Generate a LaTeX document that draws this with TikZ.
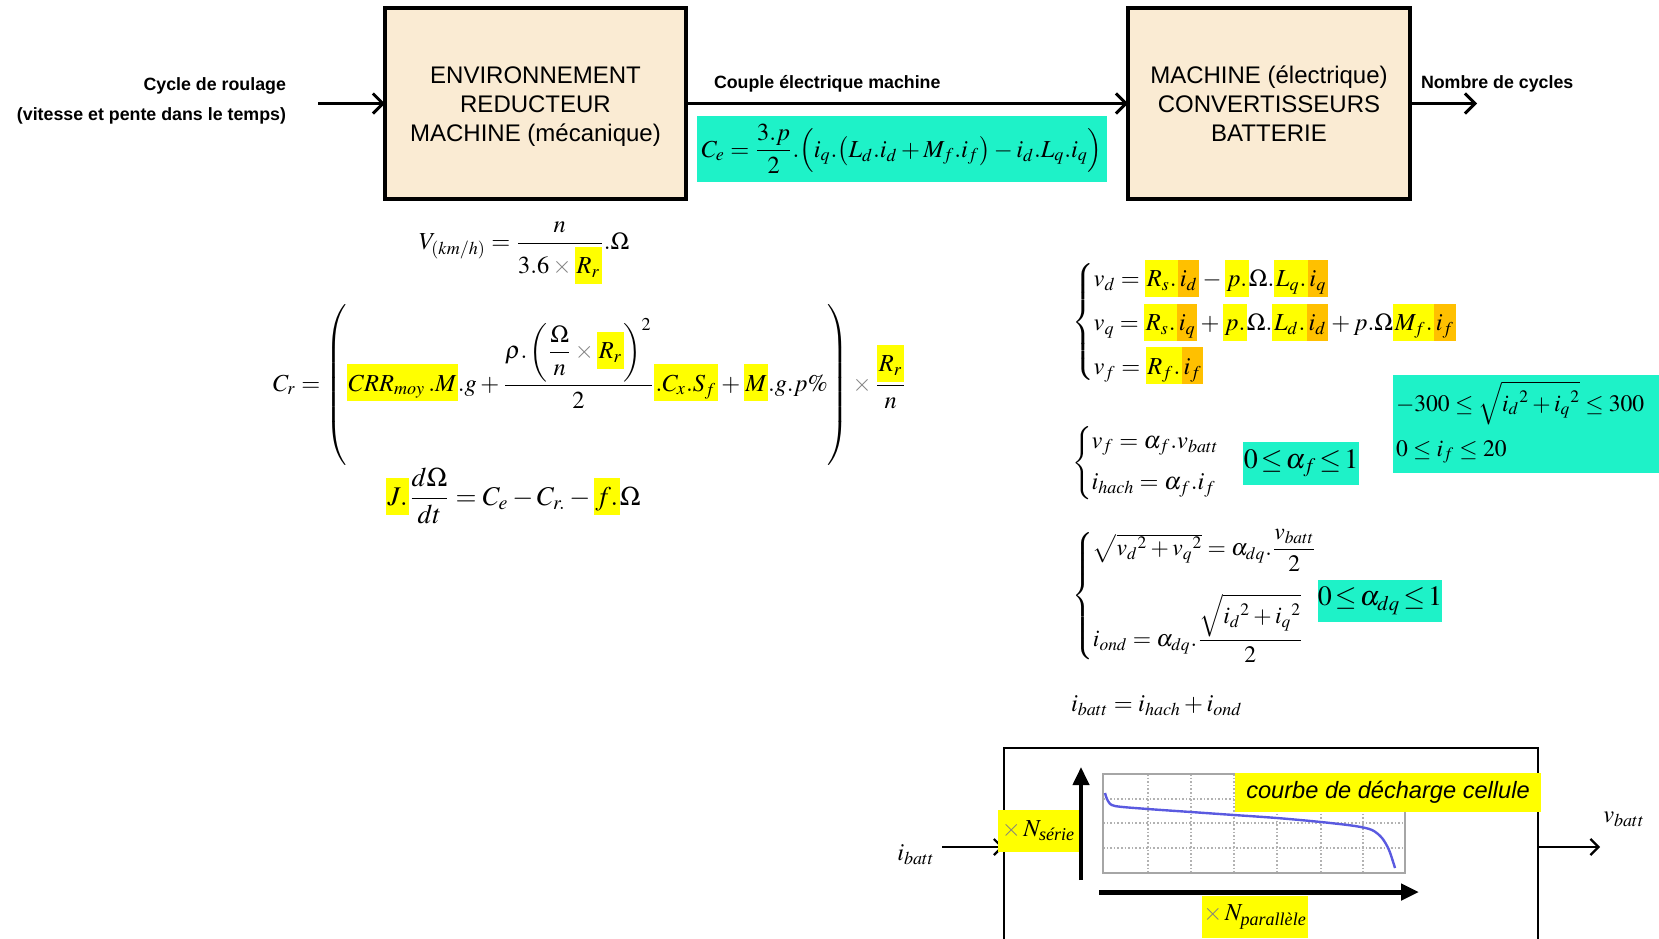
\documentclass[tikz,border=0pt]{standalone}
\usepackage{amsmath}
\usepackage{mathptmx}
\usepackage[no-math]{fontspec}
\setmainfont{Liberation Serif}
\newfontfamily\arial{Liberation Sans}
\usetikzlibrary{arrows.meta}
\definecolor{hy}{HTML}{FFFF00}
\definecolor{ho}{HTML}{FFC000}
\definecolor{cy}{HTML}{1EF2C8}
\definecolor{beige}{HTML}{FAEBD3}
\definecolor{curvecol}{HTML}{5A5AE0}
\newcommand{\hlstrut}{\rule[-5pt]{0pt}{18.5pt}}
\newcommand{\hy}[1]{{\setlength{\fboxsep}{0pt}\colorbox{hy}{\hlstrut$\kern0.8pt#1\kern0.8pt$}}}
\newcommand{\ho}[1]{{\setlength{\fboxsep}{0pt}\colorbox{ho}{\hlstrut$\kern0.8pt#1\kern0.8pt$}}}
\newcommand{\gx}{\mathbin{\textcolor{gray}{\times}}}
\newcommand{\gxo}{\textcolor{gray}{\times}\,}
\newcommand{\tle}{\mkern2mu{\leq}\mkern2mu}
\tikzset{
  blk/.style={draw, line width=2pt, fill=beige, align=center, font=\arial\fontsize{12}{14.5}\selectfont},
  lbl/.style={font=\arial\bfseries\fontsize{8.9}{15}\selectfont},
  eq/.style={font=\fontsize{12.2}{14.6}\selectfont},
  cyanbox/.style={fill=cy},
  hbox/.style={fill=hy},
  arr/.style={line width=1.5pt, -{Straight Barb[length=5pt,width=10pt]}},
  arrb/.style={line width=1.1pt, -{Straight Barb[length=4pt,width=8pt]}},
  axis/.style={line width=2pt, -{Triangle[length=9pt,width=8pt]}},
}
\begin{document}
\begin{tikzpicture}[x=0.5pt,y=-0.5pt, every node/.style={inner sep=0pt, outer sep=0pt}]
\useasboundingbox (0,0) rectangle (1659,938);
\clip (0,0) rectangle (1659,938);

% ---- top blocks
\node[blk, minimum width=150.5pt, minimum height=95.5pt] (env) at (535.5,103.5)
  {\vphantom{(}ENVIRONNEMENT\\REDUCTEUR\\\raisebox{0pt}[\height][0pt]{MACHINE (mécanique)}};
\node[blk, minimum width=141pt, minimum height=95.5pt] (mach) at (1269,103.5)
  {MACHINE (électrique)\\CONVERTISSEURS\\BATTERIE};

\node[lbl, anchor=east, align=right] (cyc) at (286,101)
  {Cycle de roulage\\(vitesse et pente dans le temps)};
\coordinate (cin) at (318,103.5);
\draw[arr] (cin) -- (env.west);
\draw[arr] (env.east) -- (mach.west);
\node[lbl, anchor=west] (couple) at (714,84) {Couple électrique machine};
\coordinate (cout) at (1477,103.5);
\draw[arr] (mach.east) -- (cout);
\node[lbl, anchor=west] (nb) at (1421,84) {Nombre de cycles};

\node[cyanbox, eq, minimum width=205pt, minimum height=33pt] (ce) at (902,149)
  {$C_e = \dfrac{3.p}{2}.\Bigl(i_q.\bigl(L_d.i_d + M_f.i_f\bigr) - i_d.L_q.i_q\Bigr)$};

% ---- mechanical equations
\node[eq, anchor=west] (veq) at (419,253)
  {$V_{(km/h)} = \dfrac{n}{3.6\gx\hy{R_r}}.\Omega$};
\node[eq, anchor=west] (creq) at (273,386)
  {$C_r = \left(\rule[-38pt]{0pt}{78pt}\hy{CRR_{moy}}\hy{.M}.g + \dfrac{\rho.\left(\dfrac{\Omega}{n}\gx\hy{R_r}\right)^{2}}{2}\hy{.C_x.S_f} + \hy{M}.g.p\% \right)\gx\dfrac{\hy{R_r}}{n}$};
\node[eq, anchor=west, font=\fontsize{13.5}{16}\selectfont] (jeq) at (386,496)
  {$\hy{J.}\dfrac{d\Omega}{dt} = C_e - C_{r.} - \hy{f.}\Omega$};

% ---- electrical equations
\node[eq, anchor=west] (sys1) at (1072,322)
  {$\left\{\begin{array}{@{}l@{}}
  v_d = \hy{R_s.}\ho{i_d} - \hy{p.}\Omega.\hy{L_q.}\ho{i_q}\\[4pt]
  v_q = \hy{R_s.}\ho{i_q} + \hy{p.}\Omega.\hy{L_d.}\ho{i_d} + p.\Omega\hy{M_f.}\ho{i_f}\\[4pt]
  v_f = \hy{R_f.}\ho{i_f}
  \end{array}\right.$};
\node[cyanbox, anchor=north west, minimum width=134pt, minimum height=49pt] (lim) at (1393,375) {};
\node[eq, anchor=west, font=\fontsize{11.8}{14}\selectfont] (lim1) at (1396,403)
  {$-300 \leq \sqrt{{i_d}^{2}+{i_q}^{2}} \leq 300$};
\node[eq, anchor=west, font=\fontsize{11.8}{14}\selectfont] (lim2) at (1396,452) {$0\leq i_f \leq 20$};

\node[eq, anchor=west] (sys2) at (1072,463)
  {$\left\{\begin{array}{@{}l@{}}
  v_f = \alpha_f.v_{batt}\\[6pt]
  i_{hach} = \alpha_f.i_f
  \end{array}\right.$};
\node[cyanbox, minimum width=58pt, minimum height=21.5pt, font=\fontsize{14}{17}\selectfont] (af) at (1301,463.5)
  {$0\tle\alpha_f\tle 1$};

\node[eq, anchor=west, font=\fontsize{11.8}{14}\selectfont] (sys3) at (1072,596)
  {$\left\{\begin{array}{@{}l@{}}
  \sqrt{{v_d}^{2}+{v_q}^{2}} = \alpha_{dq}.\dfrac{v_{batt}}{2}\\[15pt]
  i_{ond} = \alpha_{dq}.\dfrac{\sqrt{{i_d}^{2}+{i_q}^{2}}}{2}
  \end{array}\right.$};
\node[cyanbox, minimum width=60pt, minimum height=21pt, font=\fontsize{14}{17}\selectfont] (adq) at (1380,601)
  {$0\tle\alpha_{dq}\tle 1$};

\node[eq, anchor=west] (ibeq) at (1071,706) {$i_{batt} = i_{hach} + i_{ond}$};

% ---- battery block
\node[draw, line width=1pt, minimum width=267pt, minimum height=99pt] (bat) at (1270.5,847) {};
\node[eq] (ib) at (916,855) {$i_{batt}$};
\coordinate (ain) at (942,847);
\draw[arrb] (ain) -- (bat.west);
\coordinate (aout) at (1600,847);
\draw[arrb] (bat.east) -- (aout);
\node[eq] (vb) at (1624,819) {$v_{batt}$};

% grid
\draw[gray!60, densely dotted, line width=0.8pt]
  \foreach \gxv in {1148,1191,1234,1277,1321,1363} {(\gxv,774) -- (\gxv,873)}
  \foreach \gyv in {799,823,848} {(1103,\gyv) -- (1405,\gyv)};
\draw[gray!70, line width=0.8pt] (1103,774) rectangle (1405,873);
\draw[curvecol, line width=1.2pt] plot[smooth] coordinates
  {(1105,793) (1108,801) (1115,806) (1148,809) (1191,812) (1234,815) (1277,818) (1321,822) (1355,826) (1372,830) (1382,838) (1389,850) (1395,868)};

\node[hbox, minimum width=153pt, minimum height=19.5pt, font=\arial\itshape\fontsize{11.8}{14}\selectfont] (courbe) at (1388,792.5)
  {courbe de décharge cellule};
\node[hbox, eq, minimum width=40.5pt, minimum height=21pt] (nser) at (1038.5,831)
  {$\gxo N_{\text{\itshape série}}$};
\node[hbox, eq, minimum width=53pt, minimum height=21pt] (npar) at (1255,917)
  {$\gxo N_{\text{\itshape parallèle}}$};

\coordinate (ya) at (1081,880);
\coordinate (yb) at (1081,767);
\draw[axis] (ya) -- (yb);
\coordinate (xa) at (1099,892);
\coordinate (xb) at (1419,892);
\draw[axis, line width=2.5pt] (xa) -- (xb);
\end{tikzpicture}
\end{document}
